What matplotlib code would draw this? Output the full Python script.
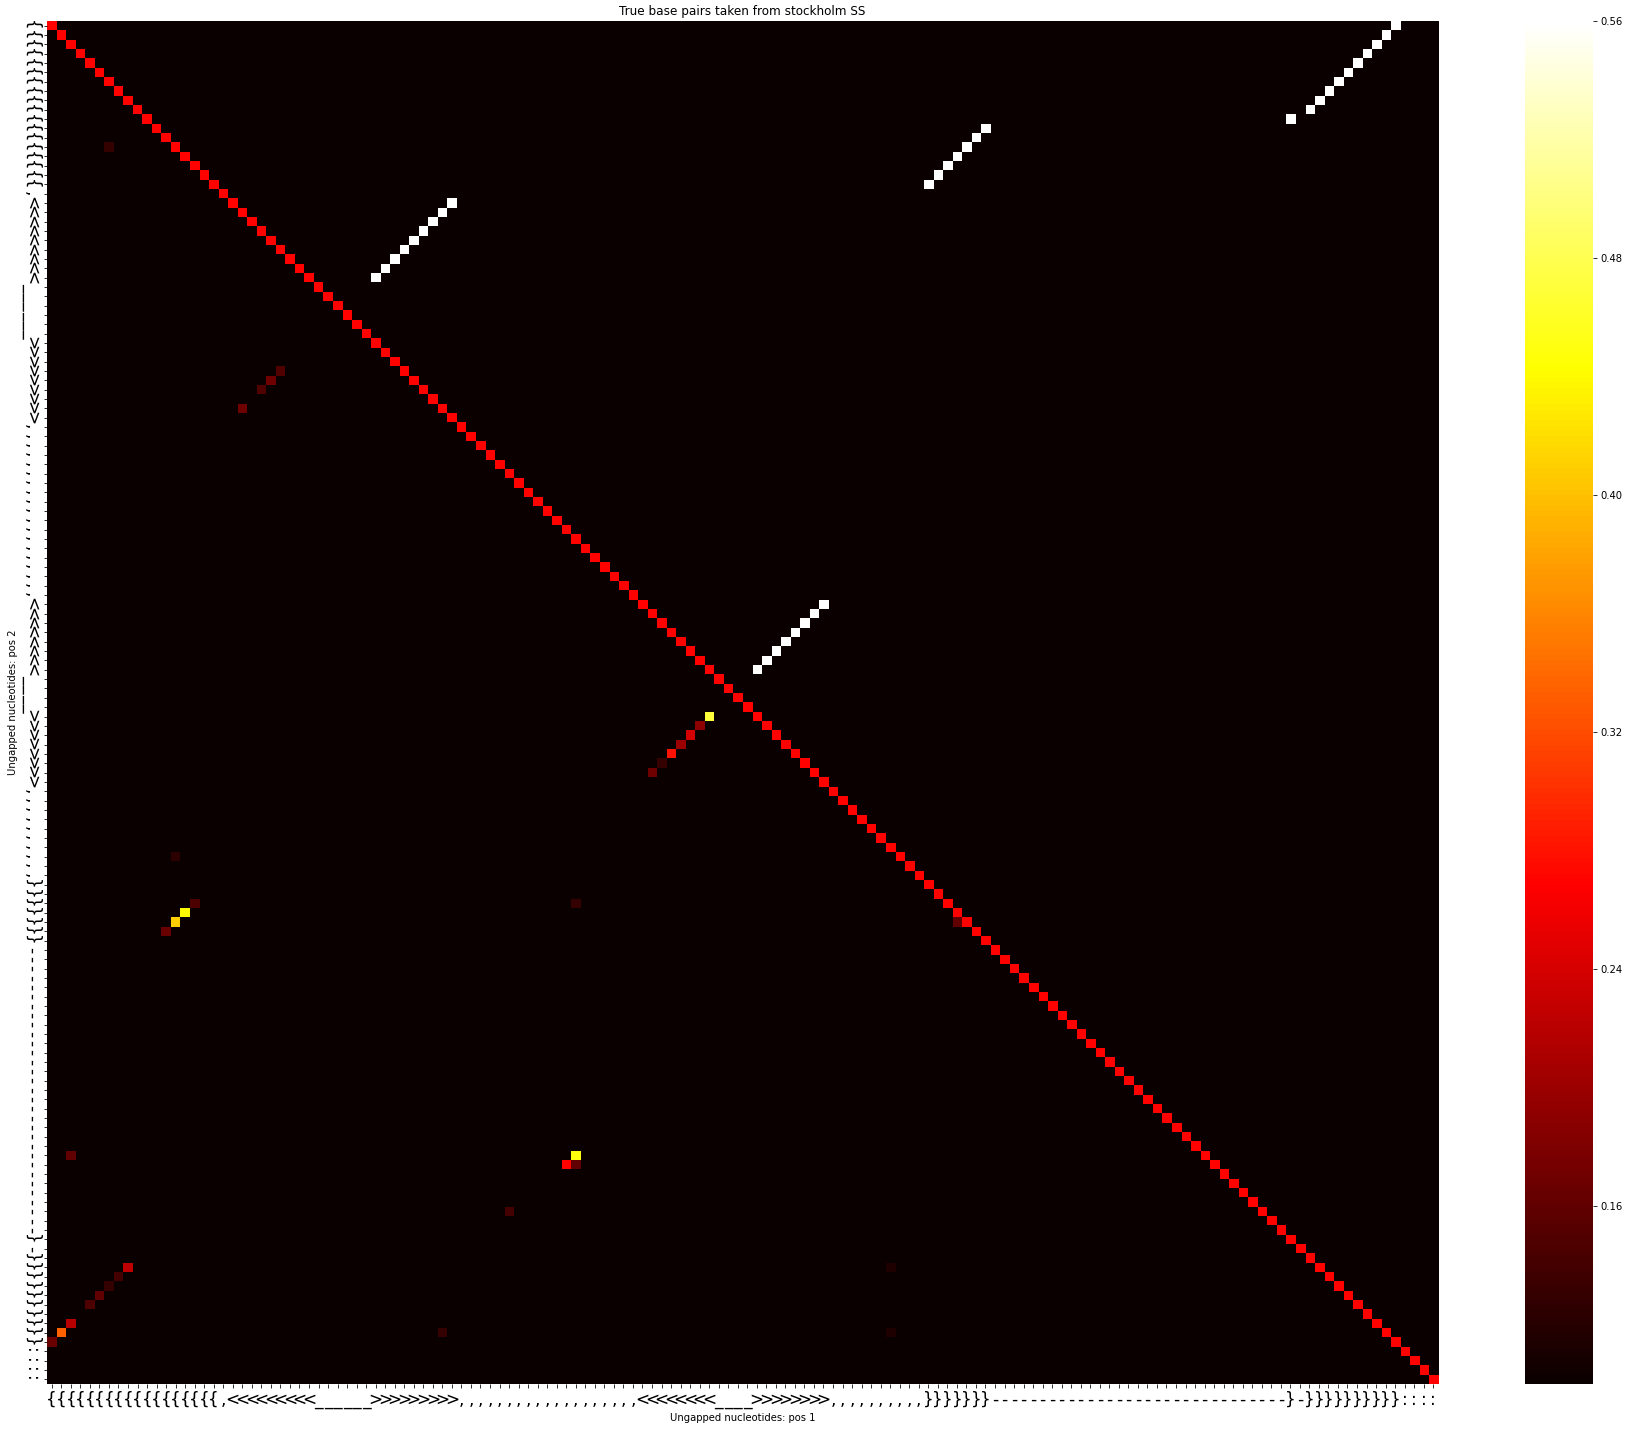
import numpy as np
import matplotlib.pyplot as plt

# secondary structure (stockholm SS line), as runs of (char, count)
ss_runs = [("{", 18), (",", 1), ("<", 9), ("_", 6), (">", 9), (",", 19),
           ("<", 8), ("_", 4), (">", 8), (",", 10), ("}", 7), ("-", 31),
           ("}", 1), ("-", 1), ("}", 10), (":", 4)]
ss = "".join(c * n for c, n in ss_runs)
N = len(ss)

background = 0.1
diag_value = 0.27
true_value = 0.56

# predicted (lower triangle) cells
pred_rows = [13, 37, 38, 39, 41, 74, 75, 76, 77, 78, 79, 80, 89, 94, 95, 96, 97,
             94, 96, 121, 121, 122, 122, 127, 133, 134, 135, 136, 137, 133,
             139, 140, 141, 140, 140]
pred_cols = [6, 24, 23, 22, 20, 69, 68, 67, 66, 65, 64, 63, 13, 15, 14, 13, 12,
             55, 95, 2, 55, 54, 55, 48, 8, 7, 6, 5, 4, 88,
             2, 1, 0, 41, 88]
pred_vals = [0.13, 0.15, 0.17, 0.15, 0.17, 0.47, 0.19, 0.24, 0.20, 0.28, 0.13, 0.17,
             0.125, 0.145, 0.44, 0.41, 0.165,
             0.13, 0.16, 0.16, 0.45, 0.27, 0.16, 0.14, 0.225, 0.14, 0.13, 0.16, 0.145, 0.115,
             0.22, 0.335, 0.165, 0.13, 0.115]


def base_pairs(s):
    pairs = []
    stacks = {"{": [], "<": []}
    close = {"}": "{", ">": "<"}
    for i, c in enumerate(s):
        if c in stacks:
            stacks[c].append(i)
        elif c in close:
            pairs.append((stacks[close[c]].pop(), i))
    return pairs


mat = np.full((N, N), background)
mat[np.arange(N), np.arange(N)] = diag_value
for i, j in base_pairs(ss):
    mat[i, j] = true_value
for r, c, v in zip(pred_rows, pred_cols, pred_vals):
    mat[r, c] = v

fig = plt.figure(figsize=(1629 / 72, 1432 / 72), dpi=72)
ax = fig.add_axes([47 / 1629, 1 - 1384 / 1432, 1391 / 1629, 1363 / 1432])
cax = fig.add_axes([1525 / 1629, 1 - 1384 / 1432, 68 / 1629, 1363 / 1432])

im = ax.imshow(mat, cmap="hot", vmin=0.1, vmax=0.56, aspect="auto",
               interpolation="nearest")
ax.set_xticks(range(N))
ax.set_xticklabels(list(ss), fontsize=17)
ax.set_yticks(range(N))
ax.set_yticklabels(list(ss), fontsize=17, rotation=270, va="center")
for s in ax.spines.values():
    s.set_visible(False)
ax.set_xlabel("Ungapped nucleotides: pos 1", fontsize=10)
ax.set_ylabel("Ungapped nucleotides: pos 2", fontsize=10)
ax.set_title("True base pairs taken from stockholm SS", fontsize=12)

cb = fig.colorbar(im, cax=cax, ticks=[0.16, 0.24, 0.32, 0.40, 0.48, 0.56])
cb.ax.set_yticklabels(["0.16", "0.24", "0.32", "0.40", "0.48", "0.56"])
cb.ax.tick_params(labelsize=10)
cb.outline.set_linewidth(0)

fig.savefig("out.png", dpi=72)
